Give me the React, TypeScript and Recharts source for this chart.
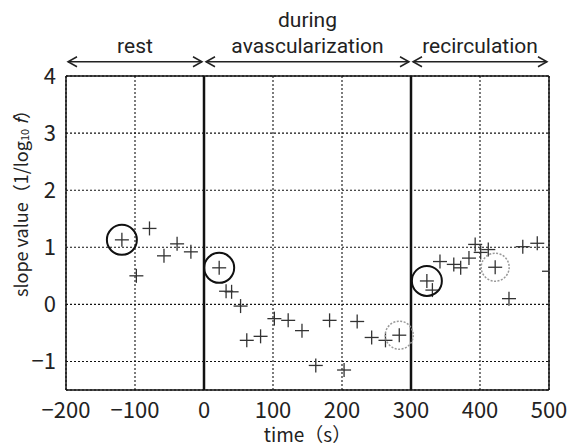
import React from "react";
import {
  ScatterChart,
  Scatter,
  XAxis,
  YAxis,
  CartesianGrid,
  ReferenceLine,
  Label,
} from "recharts";

const FONT = "'Noto Sans CJK JP', 'Noto Sans', sans-serif";
const TITLE_FONT = "Roboto, 'Noto Sans', sans-serif";

// phase boundaries (s)
const phaseStarts = [-200, 0, 300];
const phaseEnds = [0, 300, 500];
const phaseLabels = [["rest"], ["during", "avascularization"], ["recirculation"]];

const xTicks = [-200, -100, 0, 100, 200, 300, 400, 500];
const yTicks = [-1, 0, 1, 2, 3, 4];

// rest
const restTime = [-119, -98, -79, -58, -39, -19];
const restSlope = [1.13, 0.5, 1.33, 0.85, 1.06, 0.92];

// during avascularization
const duringTime = [22, 32, 40, 53, 62, 82, 102, 122, 142, 162, 182, 203, 222, 243, 263, 283];
const duringSlope = [0.64, 0.23, 0.22, -0.03, -0.63, -0.56, -0.25, -0.28, -0.46, -1.07, -0.28, -1.15, -0.3, -0.58, -0.63, -0.54];

// recirculation
const recircTime = [323, 331, 342, 362, 372, 384, 393, 401, 412, 422, 442, 462, 483, 500];
const recircSlope = [0.41, 0.25, 0.75, 0.7, 0.64, 0.81, 1.05, 0.91, 0.96, 0.65, 0.1, 1.01, 1.07, 0.58];

// highlighted points
const blackCircleTime = [-119, 22, 323];
const blackCircleSlope = [1.13, 0.64, 0.41];
const grayCircleTime = [283, 422];
const grayCircleSlope = [-0.54, 0.65];

const toPoints = (xs: number[], ys: number[]) => xs.map((x, i) => ({ x, y: ys[i] }));

const allPoints = [
  ...toPoints(restTime, restSlope),
  ...toPoints(duringTime, duringSlope),
  ...toPoints(recircTime, recircSlope),
];

const Plus = (props: any) => {
  const { cx, cy } = props;
  if (cx == null || cy == null) return null;
  return (
    <g stroke="#333" strokeWidth={1.3}>
      <line x1={cx - 7} y1={cy} x2={cx + 7} y2={cy} />
      <line x1={cx} y1={cy - 7} x2={cx} y2={cy + 7} />
    </g>
  );
};

const BlackRing = (props: any) => {
  const { cx, cy } = props;
  if (cx == null || cy == null) return null;
  return <circle cx={cx} cy={cy} r={15} fill="none" stroke="#111" strokeWidth={2} />;
};

const GrayRing = (props: any) => {
  const { cx, cy } = props;
  if (cx == null || cy == null) return null;
  return (
    <circle cx={cx} cy={cy} r={14} fill="none" stroke="#999" strokeWidth={1.5} strokeDasharray="2 1.5" />
  );
};

const phaseArrow = (lines: string[]) => (props: any) => {
  const { x1, x2, y1 } = props;
  const a = x1 + 2;
  const b = x2 - 2;
  const mid = (x1 + x2) / 2;
  return (
    <g>
      <line x1={a} y1={y1} x2={b} y2={y1} stroke="#222" strokeWidth={1.5} />
      <polyline points={`${a + 9},${y1 - 5} ${a},${y1} ${a + 9},${y1 + 5}`} fill="none" stroke="#222" strokeWidth={1.5} />
      <polyline points={`${b - 9},${y1 - 5} ${b},${y1} ${b - 9},${y1 + 5}`} fill="none" stroke="#222" strokeWidth={1.5} />
      {lines.map((t, i) => (
        <text
          key={t}
          x={mid}
          y={y1 - 9 - (lines.length - 1 - i) * 26}
          textAnchor="middle"
          fontSize={21}
          fontFamily={TITLE_FONT}
          fill="#222"
        >
          {t}
        </text>
      ))}
    </g>
  );
};

const YLabel = (props: any) => {
  const vb = props.viewBox || {};
  const cx = 20;
  const cy = (vb.y ?? 0) + (vb.height ?? 0) / 2 - 34;
  return (
    <text
      x={cx}
      y={cy}
      transform={`rotate(-90, ${cx}, ${cy})`}
      textAnchor="middle"
      dominantBaseline="central"
      fontSize={18}
      fontFamily={FONT}
      fill="#222"
    >
      slope value（1/log
      <tspan fontSize={11} dy={4}>10</tspan>
      <tspan dy={-4}> </tspan>
      <tspan fontStyle="italic">f</tspan>）
    </text>
  );
};

const fmt = (v: number) => (v < 0 ? `\u2212${Math.abs(v)}` : `${v}`);

export default function App() {
  return (
    <div style={{ width: 572, height: 446 }}>
      <style>{`body{margin:0}`}</style>
      <ScatterChart width={572} height={446} margin={{ top: 76, right: 23, bottom: 0, left: 0 }}>
        <CartesianGrid stroke="#111" strokeDasharray="2 2" strokeWidth={1.1} />
        <XAxis
          type="number"
          dataKey="x"
          domain={[-200, 500]}
          ticks={xTicks}
          allowDataOverflow
          height={56}
          tickLine={false}
          axisLine={false}
          tickMargin={6}
          tickFormatter={fmt}
          tick={{ fontSize: 22, fontFamily: FONT, fill: "#222" }}
        >
          <Label
            value="time（s）"
            position="insideBottom"
            offset={4}
            style={{ fontSize: 19, fontFamily: FONT, fill: "#222" }}
          />
        </XAxis>
        <YAxis
          type="number"
          dataKey="y"
          domain={[-1.5, 4]}
          ticks={yTicks}
          allowDataOverflow
          width={66}
          tickLine={false}
          axisLine={false}
          tickMargin={4}
          tickFormatter={fmt}
          tick={{ fontSize: 22, fontFamily: FONT, fill: "#222" }}
        >
          <Label content={<YLabel />} />
        </YAxis>

        {/* plot border */}
        <ReferenceLine x={-200} stroke="#111" strokeWidth={1.5} />
        <ReferenceLine x={500} stroke="#111" strokeWidth={1.5} />
        <ReferenceLine y={4} stroke="#111" strokeWidth={1.5} />
        <ReferenceLine y={-1.5} stroke="#111" strokeWidth={1.5} />

        {/* phase boundaries */}
        <ReferenceLine x={0} stroke="#111" strokeWidth={2.5} />
        <ReferenceLine x={300} stroke="#111" strokeWidth={2.5} />

        {phaseStarts.map((s, i) => (
          <ReferenceLine
            key={`phase-${s}`}
            segment={[
              { x: s, y: 4.25 },
              { x: phaseEnds[i], y: 4.25 },
            ]}
            ifOverflow="visible"
            shape={phaseArrow(phaseLabels[i])}
          />
        ))}

        <Scatter data={allPoints} shape={<Plus />} isAnimationActive={false} />
        <Scatter data={toPoints(blackCircleTime, blackCircleSlope)} shape={<BlackRing />} isAnimationActive={false} />
        <Scatter data={toPoints(grayCircleTime, grayCircleSlope)} shape={<GrayRing />} isAnimationActive={false} />
      </ScatterChart>
    </div>
  );
}
